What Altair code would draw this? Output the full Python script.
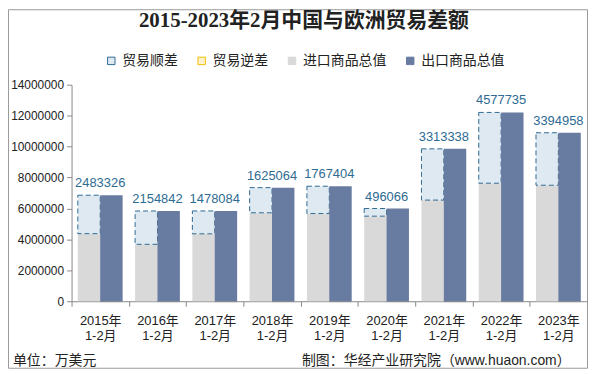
import altair as alt
import pandas as pd

years = ['2015', '2016', '2017', '2018', '2019', '2020', '2021', '2022', '2023']
imports = [4370000, 3680000, 4360000, 5720000, 5670000, 5500000, 6540000, 7630000, 7500000]
exports = [6853000, 5835000, 5838000, 7345000, 7437000, 5996000, 9853000, 12208000, 10895000]
balance = [2483326, 2154842, 1478084, 1625064, 1767404, 496066, 3313338, 4577735, 3394958]
y_ticks = [0, 2000000, 4000000, 6000000, 8000000, 10000000, 12000000, 14000000]

legend_names = ['贸易顺差', '贸易逆差', '进口商品总值', '出口商品总值']
legend_fills = ['#dfe9f1', '#fdf2cc', '#d9d9d9', '#687ba1']
legend_strokes = ['#2e6b93', '#f2bf00', '#d9d9d9', '#687ba1']

title_text = '2015-2023年2月中国与欧洲贸易差额'
unit_text = '单位：万美元'
source_text = '制图：华经产业研究院（www.huaon.com）'

df = pd.DataFrame({'year': years, 'imp': imports, 'exp': exports, 'bal': balance})

W, H = 519, 218
PB = 68
CJK = 'Noto Sans CJK SC'
LAT = 'Liberation Sans, Noto Sans CJK SC'

color_scale = alt.Scale(domain=legend_names, range=legend_fills)
stroke_scale = alt.Scale(domain=legend_names, range=legend_strokes)
off_scale = alt.Scale(domain=['进口', '出口'], paddingOuter=0.28, paddingInner=0)
y_scale = alt.Scale(domain=[0, 14000000])
x_scale = alt.Scale(paddingInner=0, paddingOuter=0)

legend = alt.Legend(
    orient='none', legendX=33, legendY=-31, direction='horizontal', title=None,
    labelFont=CJK, labelFontSize=14, labelColor='#222', symbolType='square',
    symbolSize=56, symbolStrokeWidth=1, columnPadding=17, labelOffset=4, padding=0,
)

x_axis = alt.Axis(
    title=None, labelAngle=0,
    labelExpr="isValid(datum.value) ? [datum.value + '年', '1-2月'] : ''",
    tickBand='extent', domainColor='#888', tickColor='#888', tickSize=5,
    labelFont=LAT, labelFontSize=13, labelColor='#222', labelPadding=8,
    labelLineHeight=16, grid=False,
)
y_axis = alt.Axis(
    title=None, values=y_ticks, format='d', grid=False, domainColor='#888',
    tickColor='#888', tickSize=5, labelFont=LAT, labelFontSize=12,
    labelColor='#222', labelPadding=3,
)

X = alt.X('year:N', scale=x_scale, axis=x_axis)


def Y(field):
    return alt.Y(field, scale=y_scale, axis=y_axis)


base = alt.Chart(df)

imp_bars = base.mark_bar().transform_calculate(
    series="'进口商品总值'", pos="'进口'"
).encode(
    x=X,
    xOffset=alt.XOffset('pos:N', scale=off_scale),
    y=Y('imp:Q'),
    color=alt.Color('series:N', scale=color_scale, legend=legend),
)

bal_boxes = base.mark_bar(strokeDash=[5, 3], strokeWidth=1).transform_calculate(
    series="'贸易顺差'", pos="'进口'"
).encode(
    x=X,
    xOffset=alt.XOffset('pos:N', scale=off_scale),
    y=Y('imp:Q'),
    y2='exp:Q',
    color=alt.Color('series:N', scale=color_scale, legend=legend),
    stroke=alt.Stroke('series:N', scale=stroke_scale, legend=legend),
)

shadow = base.mark_bar(color='#000000', opacity=0.12, xOffset=3, yOffset=1).transform_calculate(
    pos="'出口'"
).encode(
    x=X,
    xOffset=alt.XOffset('pos:N', scale=off_scale),
    y=Y('exp:Q'),
)

exp_bars = base.mark_bar().transform_calculate(
    series="'出口商品总值'", pos="'出口'"
).encode(
    x=X,
    xOffset=alt.XOffset('pos:N', scale=off_scale),
    y=Y('exp:Q'),
    color=alt.Color('series:N', scale=color_scale, legend=legend),
)

labels = base.mark_text(
    font='Liberation Sans', fontSize=13, color='#2e6b93', baseline='alphabetic', dy=-8
).encode(
    x=X,
    y=Y('exp:Q'),
    text=alt.Text('bal:Q', format='d'),
)

one = pd.DataFrame({'t': [title_text], 'u': [unit_text], 's': [source_text]})

frame = alt.Chart(one).mark_rect(fillOpacity=0, stroke='#999999', strokeWidth=1).encode(
    x=alt.value(-63.5), x2=alt.value(W + 0.5), y=alt.value(-75.5), y2=alt.value(H + PB - 0.5)
)

title = alt.Chart(one).mark_text(
    font='Liberation Serif, Noto Sans CJK SC', fontSize=21, fontWeight='bold',
    color='#222', baseline='middle', align='center'
).encode(x=alt.value(234), y=alt.value(-64), text='t:N')

unit = alt.Chart(one).mark_text(
    font=LAT, fontSize=14, color='#222', baseline='middle', align='left'
).encode(x=alt.value(-59), y=alt.value(278), text='u:N')

source = alt.Chart(one).mark_text(
    font=LAT, fontSize=14, color='#222', baseline='middle', align='left'
).encode(x=alt.value(232), y=alt.value(278), text='s:N')

chart = alt.layer(
    imp_bars, bal_boxes, shadow, exp_bars, labels, frame, title, unit, source
).properties(
    width=W, height=H,
    autosize=alt.AutoSizeParams(type='none'),
    padding={'left': 64, 'top': 76, 'right': 1, 'bottom': PB},
    background='white',
).configure_view(stroke=None)

chart.save('out.html', embed_options={'renderer': 'svg', 'actions': False})
